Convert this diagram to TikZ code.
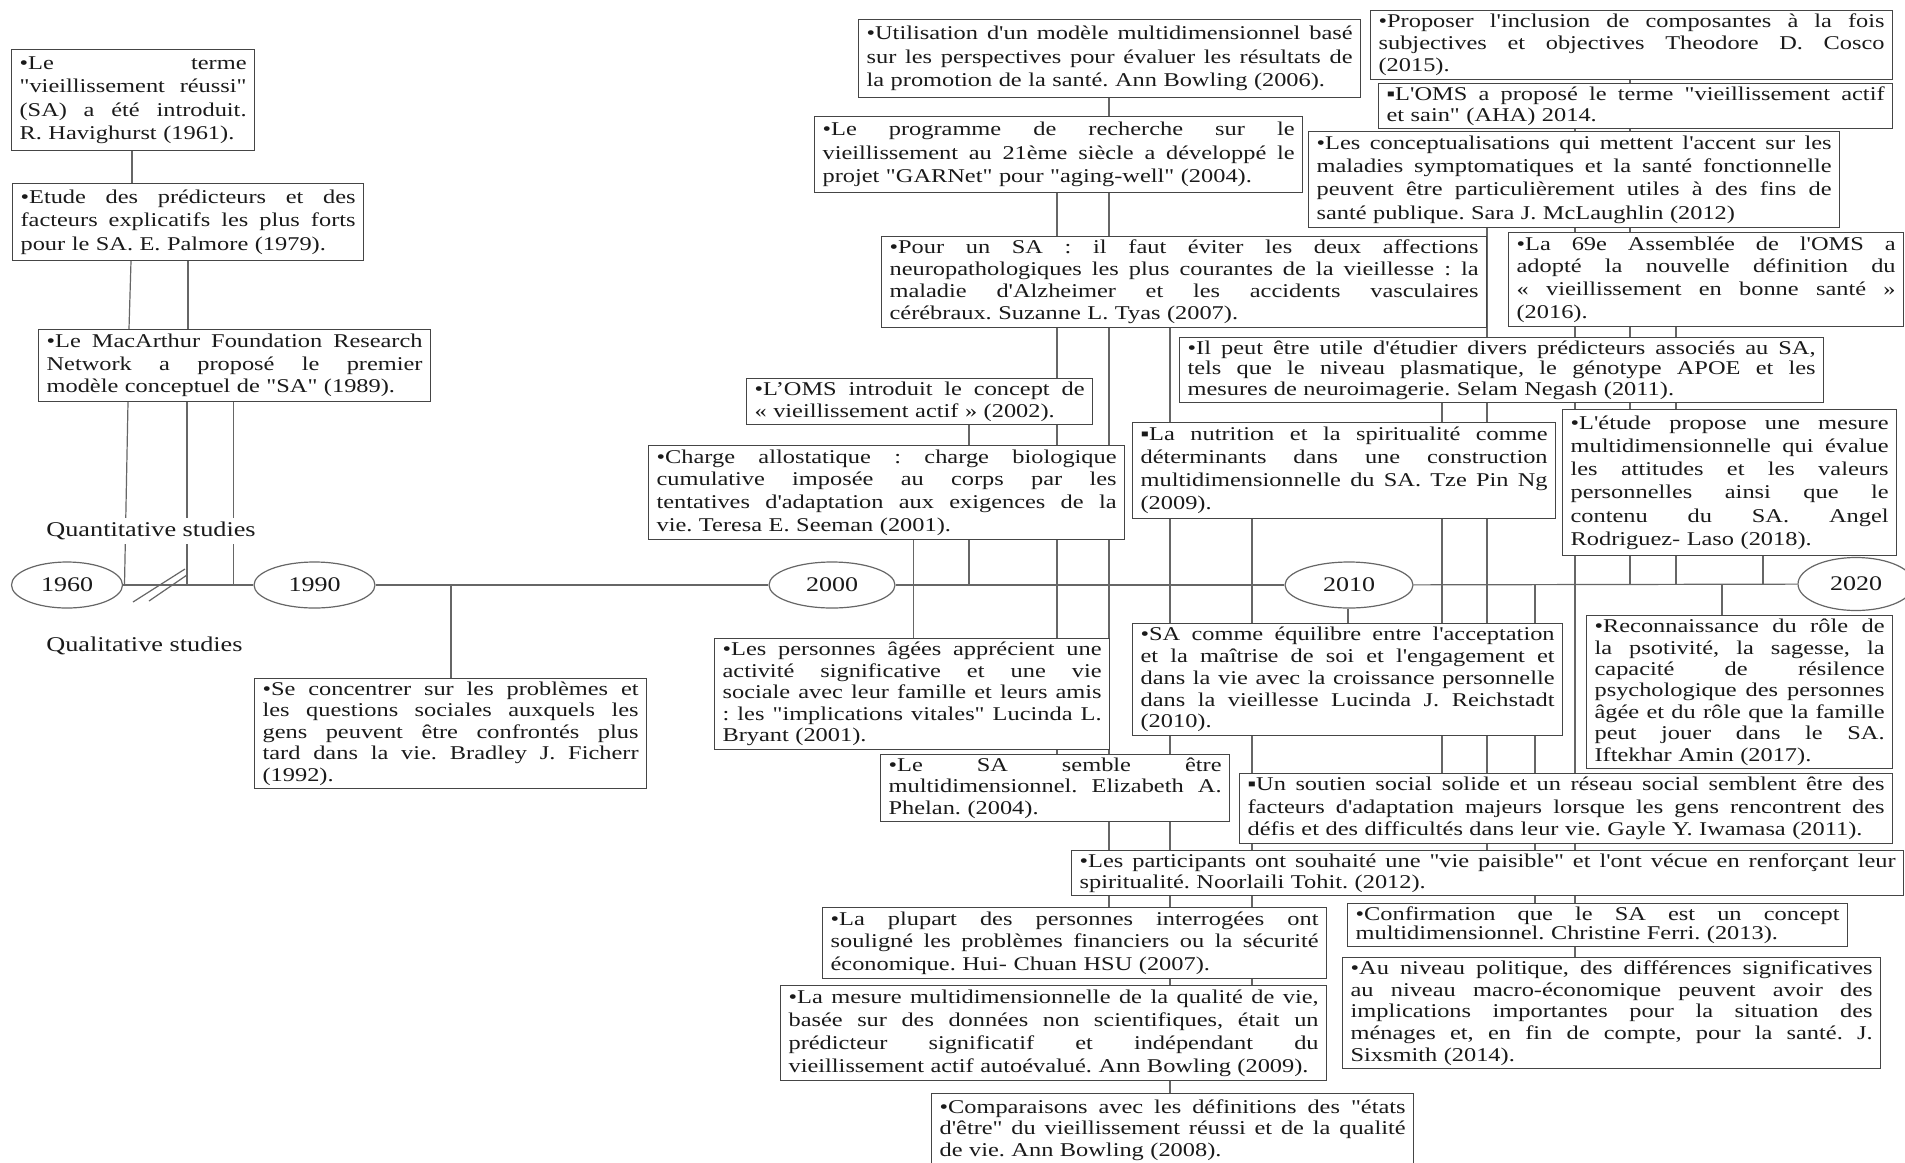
\documentclass[tikz,border=0pt]{standalone}
\usepackage{fontspec}
\setmainfont{Liberation Serif}[FakeStretch=1.25,Ligatures=TeXOff]
\usetikzlibrary{shapes.geometric}
\frenchspacing
\pgfdeclarelayer{bg}
\pgfsetlayers{bg,main}
\definecolor{boxc}{HTML}{454545}
\definecolor{lnc}{HTML}{666666}
\definecolor{txc}{HTML}{1A1A1A}
\newcommand\fs[1]{\fontsize{9.75pt}{#1pt}\selectfont}
\newcommand\jl[1]{\leavevmode\hbox to \tw pt{\spaceskip=\fontdimen2\font plus 1fil minus 0.3\fontdimen2\font\xspaceskip=\spaceskip\relax #1}\\}
\newcommand\bx[7][]{%
  \pgfmathsetmacro\bw{(#5-#3)*0.5}%
  \pgfmathsetmacro\bh{(#6-#4)*0.5}%
  \pgfmathsetmacro\tw{(#5-#3)*0.5-8}%
  \node[tb,#1,minimum width=\bw pt,minimum height=\bh pt,text width=\tw pt] (#2) at (#3,#4) {#7};}
\newcommand\vl[3]{\draw[ln] (#2 -| #1,0) -- (#3 -| #1,0);}
\begin{document}
\begin{tikzpicture}[x=0.5pt,y=-0.5pt,
  tb/.style={draw=boxc, fill=white, line width=0.6pt, anchor=north west, inner xsep=4pt, inner ysep=0.5pt, align=left, text=txc, font=\fs{11.65}},
  ln/.style={draw=lnc, line width=0.6pt},
  yr/.style={ellipse, draw=lnc, fill=white, line width=0.6pt, inner sep=0pt, text=txc, font=\fontsize{10.4pt}{12pt}\selectfont},
  lab/.style={fill=white, inner sep=2pt, text=txc, anchor=west, font=\fontsize{10.5pt}{12pt}\selectfont}]
\useasboundingbox (0,0) rectangle (1905,1162);
\begin{pgfonlayer}{bg}
\fill[white] (0,0) rectangle (1905,1162);
\end{pgfonlayer}
\coordinate (ax) at (0,585);

% ---- left side ----
\bx{A}{11}{49}{254}{150}{\jl{•Le terme}\jl{"vieillissement réussi"}\jl{(SA) a été introduit.}R. Havighurst (1961).}
\bx{B}{12}{183}{363}{260}{\jl{•Etude des prédicteurs et des}\jl{facteurs explicatifs les plus forts}pour le SA. E. Palmore (1979).}
\bx[font=\fs{11.3}]{C}{38}{329}{430}{401}{\jl{•Le MacArthur Foundation Research}\jl{Network a proposé le premier}modèle conceptuel de "SA" (1989).}
\bx[font=\fs{10.7}]{D}{254}{678}{646}{788}{\jl{•Se concentrer sur les problèmes et}\jl{les questions sociales auxquels les}\jl{gens peuvent être confrontés plus}\jl{tard dans la vie. Bradley J. Ficherr}(1992).}

% ---- middle ----
\bx{E}{858}{19}{1360}{97}{\jl{•Utilisation d'un modèle multidimensionnel basé}\jl{sur les perspectives pour évaluer les résultats de}la promotion de la santé. Ann Bowling (2006).}
\bx{F}{814}{116}{1302}{192}{\jl{•Le programme de recherche sur le}\jl{vieillissement au 21ème siècle a développé le}projet "GARNet" pour "aging-well" (2004).}
\bx[font=\fs{11.0}]{G}{881}{236}{1486}{327}{\jl{•Pour un SA : il faut éviter les deux affections}\jl{neuropathologiques les plus courantes de la vieillesse : la}\jl{maladie d'Alzheimer et les accidents vasculaires}cérébraux. Suzanne L. Tyas (2007).}
\bx[font=\fs{10.75}]{H}{746}{378}{1092}{424}{\jl{•L’OMS introduit le concept de}« vieillissement actif » (2002).}
\bx[font=\fs{11.35}]{K}{648}{445}{1124}{539}{\jl{•Charge allostatique : charge biologique}\jl{cumulative imposée au corps par les}\jl{tentatives d'adaptation aux exigences de la}vie. Teresa E. Seeman (2001).}
\bx[font=\fs{10.8}]{L}{714}{638}{1109}{749}{\jl{•Les personnes âgées apprécient une}\jl{activité significative et une vie}\jl{sociale avec leur famille et leurs amis}\jl{: les "implications vitales" Lucinda L.}Bryant (2001).}
\bx[font=\fs{10.65}]{M}{880}{754}{1229}{821}{\jl{•Le SA semble être}\jl{multidimensionnel. Elizabeth A.}Phelan. (2004).}
\bx[font=\fs{10.25}]{N}{1071}{850}{1903}{895}{\jl{•Les participants ont souhaité une "vie paisible" et l'ont vécue en renforçant leur}spiritualité. Noorlaili Tohit. (2012).}
\bx[font=\fs{11.3}]{O}{822}{907}{1326}{978}{\jl{•La plupart des personnes interrogées ont}\jl{souligné les problèmes financiers ou la sécurité}économique. Hui- Chuan HSU (2007).}
\bx[font=\fs{11.5}]{P2}{780}{985}{1326}{1080}{\jl{•La mesure multidimensionnelle de la qualité de vie,}\jl{basée sur des données non scientifiques, était un}\jl{prédicteur significatif et indépendant du}vieillissement actif autoévalué. Ann Bowling (2009).}
\bx[font=\fs{10.75}]{Q2}{931}{1093}{1413}{1166}{\jl{•Comparaisons avec les définitions des "états}\jl{d'être" du vieillissement réussi et de la qualité}de vie. Ann Bowling (2008).}

% ---- right side ----
\bx[font=\fs{11.0}]{P}{1370}{10}{1892}{79}{\jl{•Proposer l'inclusion de composantes à la fois}\jl{subjectives et objectives Theodore D. Cosco}(2015).}
\bx[font=\fs{10.5}]{Q}{1378}{83}{1892}{128}{\jl{▪L'OMS a proposé le terme "vieillissement actif}et sain" (AHA) 2014.}
\bx[font=\fs{11.6}]{R}{1308}{131}{1839}{227}{\jl{•Les conceptualisations qui mettent l'accent sur les}\jl{maladies symptomatiques et la santé fonctionnelle}\jl{peuvent être particulièrement utiles à des fins de}santé publique. Sara J. McLaughlin (2012)}
\bx[font=\fs{11.4}]{S}{1508}{232}{1903}{326}{\jl{•La 69e Assemblée de l'OMS a}\jl{adopté la nouvelle définition du}\jl{« vieillissement en bonne santé »}(2016).}
\bx[font=\fs{10.35}]{I}{1179}{337}{1823}{402}{\jl{•Il peut être utile d'étudier divers prédicteurs associés au SA,}\jl{tels que le niveau plasmatique, le génotype APOE et les}mesures de neuroimagerie. Selam Negash (2011).}
\bx[font=\fs{11.5}]{J}{1132}{422}{1555}{518}{\jl{▪La nutrition et la spiritualité comme}\jl{déterminants dans une construction}\jl{multidimensionnelle du SA. Tze Pin Ng}(2009).}
\bx{X}{1562}{409}{1896}{555}{\jl{•L'étude propose une mesure}\jl{multidimensionnelle qui évalue}\jl{les attitudes et les valeurs}\jl{personnelles ainsi que le}\jl{contenu du SA. Angel}Rodriguez- Laso (2018).}
\bx[font=\fs{10.9}]{W}{1132}{623}{1562}{735}{\jl{•SA comme équilibre entre l'acceptation}\jl{et la maîtrise de soi et l'engagement et}\jl{dans la vie avec la croissance personnelle}\jl{dans la vieillesse Lucinda J. Reichstadt}(2010).}
\bx[font=\fs{10.7}]{Y}{1586}{615}{1892}{768}{\jl{•Reconnaissance du rôle de}\jl{la psotivité, la sagesse, la}\jl{capacité de résilence}\jl{psychologique des personnes}\jl{âgée et du rôle que la famille}\jl{peut jouer dans le SA.}Iftekhar Amin (2017).}
\bx[font=\fs{11.15}]{T}{1239}{773}{1892}{843}{\jl{▪Un soutien social solide et un réseau social semblent être des}\jl{facteurs d'adaptation majeurs lorsque les gens rencontrent des}défis et des difficultés dans leur vie. Gayle Y. Iwamasa (2011).}
\bx[font=\fs{9.75}]{U}{1347}{903}{1847}{946}{\jl{•Confirmation que le SA est un concept}multidimensionnel. Christine Ferri. (2013).}
\bx[font=\fs{10.8}]{V}{1342}{957}{1880}{1068}{\jl{•Au niveau politique, des différences significatives}\jl{au niveau macro-économique peuvent avoir des}\jl{implications importantes pour la situation des}\jl{ménages et, en fin de compte, pour la santé. J.}Sixsmith (2014).}

% ---- timeline ----
\node[yr, minimum width=55.5pt, minimum height=23pt] (e1960) at (67,585) {1960};
\node[yr, minimum width=60.5pt, minimum height=23pt] (e1990) at (314.5,585) {1990};
\node[yr, minimum width=63pt, minimum height=23pt] (e2000) at (832,585) {2000};
\node[yr, minimum width=64pt, minimum height=23pt] (e2010) at (1349,585) {2010};
\node[yr, minimum width=58pt, minimum height=26.5pt] (e2020) at (1856,584) {2020};
\node[lab] (quant) at (42,531) {Quantitative studies};
\node[lab] (qual) at (42,646) {Qualitative studies};
\draw[ln] (133,602) -- (185,569);
\draw[ln] (149,601) -- (187,575);

\begin{pgfonlayer}{bg}
\draw[ln] (e1960) -- (e1990);
\draw[ln] (e1990) -- (e2000);
\draw[ln] (e2000) -- (e2010);
\draw[ln] (e2010) -- (e2020);
\vl{132}{A.south}{B.north}
\draw[ln] (B.south -| 131,0) -- (C.north -| 129,0);
\vl{188}{B.south}{C.north}
\draw[ln] (C.south -| 128,0) -- (ax -| 124.5,0);
\vl{187}{C.south}{ax}
\vl{233.5}{C.south}{ax}
\vl{451}{ax}{D.north}
\vl{1109}{E.south}{O.north}
\vl{1057}{F.south}{M.north}
\vl{1170}{G.south}{Q2.north}
\vl{1252}{J.south}{P2.north}
\vl{969}{H.south}{ax}
\vl{913.5}{K.south}{L.north}
\vl{1442}{I.south}{T.north}
\vl{1487}{R.south}{N.north}
\vl{1535}{ax}{U.north}
\vl{1575}{Q.south}{V.north}
\vl{1630}{P.south}{ax}
\vl{1676}{S.south}{ax}
\vl{1763}{X.south}{ax}
\vl{1722}{ax}{Y.north}
\vl{1348}{e2010.south}{W.north}
\end{pgfonlayer}
\end{tikzpicture}
\end{document}
